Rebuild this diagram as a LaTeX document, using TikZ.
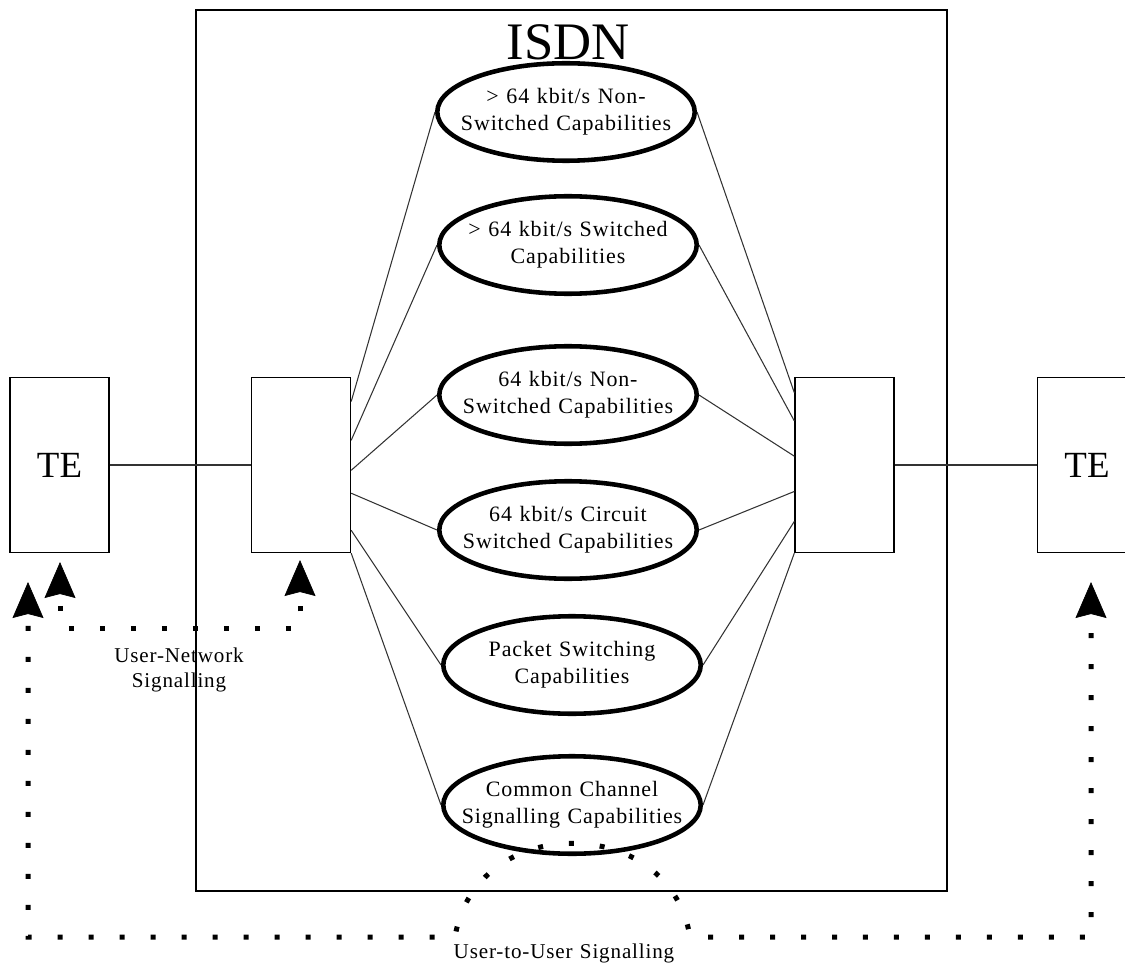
\documentclass[tikz,border=0pt]{standalone}
\usepackage{fontspec}
\setmainfont{Liberation Serif}
\newfontfamily\svcfont[LetterSpace=4,WordSpace=1.2]{Liberation Serif}
\usetikzlibrary{arrows.meta,calc,shapes.geometric}
\begin{document}
\begin{tikzpicture}[x=0.02cm,y=-0.02cm,
	box/.style={draw, rectangle, line width=0.8pt, minimum width=1.98cm, minimum height=3.5cm, inner sep=0pt},
	svc/.style={draw, ellipse, line width=2.6pt, minimum width=5.15cm, minimum height=1.95cm, inner xsep=-1.2cm, inner ysep=0pt, align=center, font=\svcfont\fontsize{12.5}{15.5}\selectfont},
	link/.style={line width=0.6pt, draw=black!80},
	sig/.style={line width=0.1cm, dash pattern=on 0.1cm off 0.52cm, dash phase=0.38cm,
		{Stealth[width=0.62cm, length=0.72cm, inset=0.08cm, line width=0.4pt]}-{Stealth[width=0.62cm, length=0.72cm, inset=0.08cm, line width=0.4pt]}},
	lbl/.style={align=center, font=\svcfont\fontsize{12}{14}\selectfont}]
	\useasboundingbox (0,0) rectangle (1125,969);
	\draw[line width=0.8pt] (196,10) rectangle (947,891);
	\node (isdn) at (568,42) {\fontsize{30}{30}\selectfont ISDN};
	\node (teL)[box] at (59.5,465) {\fontsize{21}{21}\selectfont TE};
	\node (netL)[box] at (301,465) {};
	\node (netR)[box] at (844.5,465) {};
	\node (teR)[box] at (1087,465) {\fontsize{21}{21}\selectfont TE};
	\node (e1)[svc] at (566,112) {> 64 kbit/s Non-\\Switched Capabilities};
	\node (e2)[svc] at (568,245) {> 64 kbit/s Switched\\Capabilities};
	\node (e3)[svc] at (568,395) {64 kbit/s Non-\\Switched Capabilities};
	\node (e4)[svc] at (568,530) {64 kbit/s Circuit\\Switched Capabilities};
	\node (e5)[svc] at (572,665) {Packet Switching\\Capabilities};
	\node (e6)[svc] at (572,805) {Common Channel\\Signalling Capabilities};
	\draw[link](teL)--(netL);
	\draw[link](netR)--(teR);
	\foreach \e/\a/\b in {e1/0.14/0.09, e2/0.36/0.25, e3/0.53/0.45, e4/0.66/0.65, e5/0.87/0.82, e6/1.0/1.0}
	{
		\draw[link]($(netL.north east)!\a!(netL.south east)$)--(\e.west);
		\draw[link]($(netR.north west)!\b!(netR.south west)$)--(\e.east);
	}
	% signalling
	\coordinate (unT) at (60,562);
	\coordinate (unN) at (300,560);
	\coordinate (uuL) at (28,582);
	\coordinate (uuR) at (1091,582);
	\coordinate (uuA) at (455,937);
	\coordinate (uuB) at (690,937);
	\draw[sig](unT)--++(0,66)-|(unN);
	\draw[sig](uuL)|-(uuA) .. controls (475,812) and (670,812) .. (uuB)-|(uuR);
	\node (unlbl)[lbl] at (179,670) {User-Network\\Signalling};
	\node (uulbl)[lbl] at (564,953) {User-to-User Signalling};
\end{tikzpicture}
\end{document}
